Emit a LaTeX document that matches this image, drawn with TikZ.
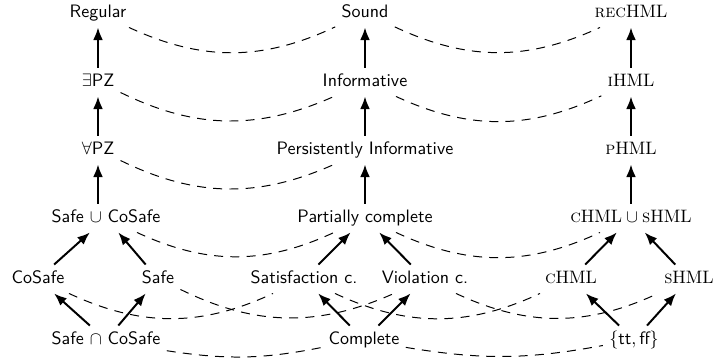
\documentclass[tikz,border=0pt]{standalone}
\usetikzlibrary{arrows.meta}
\begin{document}
\begin{tikzpicture}[x=0.5556pt,y=0.5556pt,
  lab/.style={font=\sffamily, inner sep=3.33pt, text height=7pt, text depth=2pt},
  hml/.style={font=\rmfamily, inner sep=3.33pt, text height=7pt, text depth=2pt},
  up/.style={-{Latex[length=7pt,width=5.5pt]}, line width=1.1pt},
  rel/.style={dash pattern=on 5pt off 4pt, line width=0.55pt},
]
\useasboundingbox (0,0) rectangle (716,-360);
% left column
\node[lab] (reg) at (98,-13) {Regular};
\node[lab] (epz) at (98,-82) {$\exists$PZ};
\node[lab] (apz) at (98,-150) {$\forall$PZ};
\node[lab] (su) at (106,-218) {Safe $\cup$ CoSafe};
\node[lab] (cos) at (38,-279) {CoSafe};
\node[lab] (saf) at (158,-279) {Safe};
\node[lab] (si) at (106,-340) {Safe $\cap$ CoSafe};
% middle column
\node[lab] (snd) at (365,-13) {Sound};
\node[lab] (inf) at (365,-82) {Informative};
\node[lab] (pinf) at (365,-150) {Persistently Informative};
\node[lab] (pc) at (365,-218) {Partially complete};
\node[lab] (satc) at (304,-279) {Satisfaction c.};
\node[lab] (viol) at (425,-279) {Violation c.};
\node[lab] (comp) at (364,-340) {Complete};
% right column
\node[hml] (rec) at (631,-13) {\textsc{rec}HML};
\node[hml] (ihml) at (631,-82) {\textsc{i}HML};
\node[hml] (phml) at (631,-150) {\textsc{p}HML};
\node[hml] (cs) at (631,-218) {$\textsc{c}\mathrm{HML}\cup\textsc{s}\mathrm{HML}$};
\node[hml] (chml) at (571,-279) {\textsc{c}HML};
\node[hml] (shml) at (689,-279) {\textsc{s}HML};
\node[hml] (ttff) at (634,-340) {$\{\textsf{tt},\textsf{ff}\}$};
% solid arrows
\draw[up] (epz) -- (reg);
\draw[up] (apz) -- (epz);
\draw[up] (su.north -| apz) -- (apz);
\draw[up] (cos) -- (su);
\draw[up] (saf) -- (su);
\draw[up] (si) -- (cos);
\draw[up] (si) -- (saf);
\draw[up] (inf) -- (snd);
\draw[up] (pinf) -- (inf);
\draw[up] (pc) -- (pinf);
\draw[up] (satc) -- (pc);
\draw[up] (viol) -- (pc);
\draw[up] (comp) -- (satc);
\draw[up] (comp) -- (viol);
\draw[up] (ihml) -- (rec);
\draw[up] (phml) -- (ihml);
\draw[up] (cs) -- (phml);
\draw[up] (chml) -- (cs);
\draw[up] (shml) -- (cs);
\draw[up] (ttff) -- (chml);
\draw[up] (ttff) -- (shml);
% dashed correspondences
\draw[rel] (reg) to[bend right=25] (snd);
\draw[rel] (snd) to[bend right=25] (rec);
\draw[rel] (epz) to[bend right=25] (inf);
\draw[rel] (inf) to[bend right=25] (ihml);
\draw[rel] (apz) to[bend right=25] (pinf);
\draw[rel] (su) to[bend right=25] (pc);
\draw[rel] (pc) to[bend right=25] (cs);
\draw[rel] (cos) to[bend right=25] (satc);
\draw[rel] (saf) to[bend right=25] (viol);
\draw[rel] (satc) to[bend right=25] (chml);
\draw[rel] (viol) to[bend right=25] (shml);
\draw[rel] (si) to[bend right=10] (comp);
\draw[rel] (comp) to[bend right=10] (ttff);
\end{tikzpicture}
\end{document}
